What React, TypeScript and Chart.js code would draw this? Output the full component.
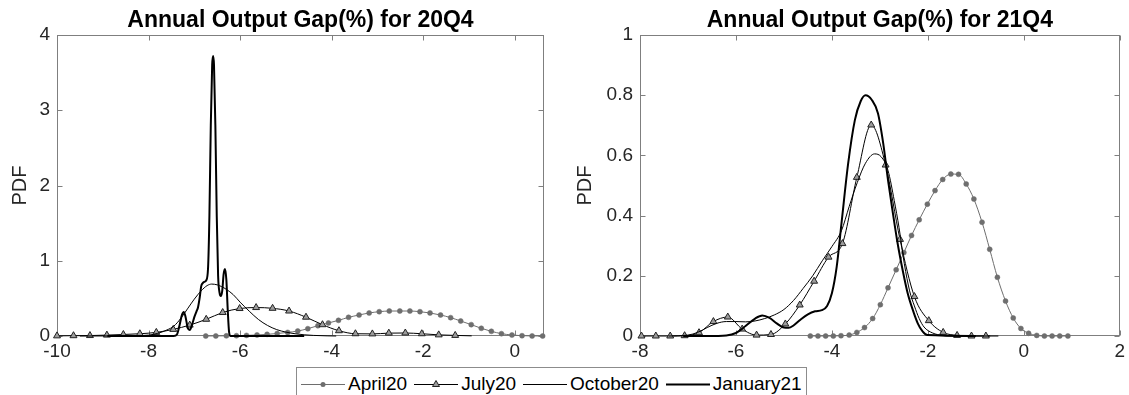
import React, { useEffect, useRef } from "react";
import { Chart, registerables } from "chart.js";

Chart.register(...registerables);

// ---------- Data ----------
// Left panel: Annual Output Gap(%) for 20Q4
const leftAprilX = [-6.75, -6.53, -6.30, -6.08, -5.86, -5.63, -5.41, -5.19, -4.96, -4.74, -4.52, -4.30, -4.07, -3.85, -3.63, -3.40, -3.18, -2.96, -2.74, -2.51, -2.29, -2.07, -1.85, -1.62, -1.40, -1.18, -0.95, -0.73, -0.51, -0.29, -0.06, 0.16, 0.38, 0.61];
const leftAprilY = [0, 0.001, 0.002, 0.004, 0.008, 0.014, 0.022, 0.033, 0.048, 0.066, 0.097, 0.137, 0.173, 0.208, 0.248, 0.279, 0.306, 0.323, 0.332, 0.332, 0.332, 0.323, 0.306, 0.279, 0.244, 0.199, 0.151, 0.102, 0.062, 0.031, 0.013, 0.004, 0.001, 0];

const leftJulyX = [-10.0, -9.64, -9.28, -8.91, -8.55, -8.19, -7.83, -7.46, -7.10, -6.74, -6.38, -6.01, -5.65, -5.29, -4.93, -4.56, -4.20, -3.84, -3.48, -3.11, -2.75, -2.39, -2.03, -1.66, -1.30, -0.94];
const leftJulyY = [0.002, 0.004, 0.006, 0.012, 0.02, 0.03, 0.048, 0.088, 0.145, 0.222, 0.312, 0.365, 0.378, 0.368, 0.332, 0.25, 0.15, 0.07, 0.03, 0.028, 0.038, 0.04, 0.03, 0.015, 0.008, 0.002];

const leftOctX = [-9.5, -8.8, -8.3, -8.0, -7.8, -7.6, -7.45, -7.3, -7.15, -7.0, -6.85, -6.72, -6.62, -6.5, -6.4, -6.3, -6.15, -6.0, -5.8, -5.6, -5.4, -5.2, -5.0, -4.8, -4.6, -4.4, -4.1, -3.9];
const leftOctY = [0, 0.001, 0.004, 0.012, 0.035, 0.08, 0.13, 0.23, 0.36, 0.49, 0.6, 0.67, 0.69, 0.68, 0.655, 0.62, 0.55, 0.45, 0.33, 0.22, 0.14, 0.085, 0.052, 0.03, 0.016, 0.008, 0.002, 0];

const leftJanX = [-8.9, -8.0, -7.45, -7.38, -7.32, -7.27, -7.23, -7.19, -7.14, -7.10, -7.05, -7.0, -6.95, -6.92, -6.88, -6.85, -6.82, -6.78, -6.74, -6.70, -6.67, -6.64, -6.61, -6.59, -6.57, -6.54, -6.51, -6.48, -6.45, -6.42, -6.39, -6.36, -6.33, -6.30, -6.27, -6.24, -6.21, -4.6];
const leftJanY = [0, 0, 0, 0.02, 0.15, 0.28, 0.32, 0.25, 0.1, 0.08, 0.15, 0.25, 0.33, 0.38, 0.52, 0.66, 0.70, 0.72, 0.74, 0.90, 1.6, 2.8, 3.6, 3.72, 3.6, 2.8, 1.6, 0.8, 0.58, 0.53, 0.6, 0.82, 0.89, 0.75, 0.35, 0.05, 0, 0];

// Right panel: Annual Output Gap(%) for 21Q4
const rightAprilX = [-4.45, -4.29, -4.13, -3.97, -3.81, -3.64, -3.48, -3.32, -3.15, -2.99, -2.83, -2.66, -2.50, -2.34, -2.18, -2.01, -1.85, -1.69, -1.52, -1.36, -1.20, -1.04, -0.87, -0.71, -0.55, -0.38, -0.22, -0.06, 0.10, 0.27, 0.43, 0.59, 0.75, 0.92];
const rightAprilY = [0, 0, 0, 0, 0.001, 0.003, 0.012, 0.028, 0.058, 0.104, 0.16, 0.22, 0.277, 0.334, 0.386, 0.438, 0.483, 0.52, 0.538, 0.537, 0.505, 0.455, 0.378, 0.288, 0.195, 0.116, 0.06, 0.025, 0.009, 0.002, 0, 0, 0, 0];

const rightJulyX = [-7.97, -7.67, -7.37, -7.07, -6.77, -6.47, -6.17, -5.87, -5.57, -5.27, -4.97, -4.67, -4.37, -4.07, -3.78, -3.48, -3.18, -2.88, -2.58, -2.28, -1.98, -1.68, -1.39, -1.09, -0.79, -0.53];
const rightJulyY = [0, 0, 0, 0.001, 0.011, 0.048, 0.063, 0.023, 0.003, 0.005, 0.04, 0.103, 0.182, 0.262, 0.307, 0.527, 0.701, 0.568, 0.321, 0.131, 0.051, 0.012, 0.002, 0, 0, 0];

const rightOctX = [-7.4, -7.0, -6.8, -6.6, -6.4, -6.2, -6.0, -5.8, -5.6, -5.4, -5.2, -5.0, -4.8, -4.6, -4.4, -4.2, -4.0, -3.8, -3.64, -3.47, -3.3, -3.11, -2.97, -2.83, -2.7, -2.6, -2.49, -2.38, -2.28, -2.18, -2.08, -1.9, -1.7, -1.5, -0.7];
const rightOctY = [0, 0.003, 0.012, 0.028, 0.042, 0.048, 0.048, 0.047, 0.05, 0.058, 0.07, 0.088, 0.118, 0.158, 0.2, 0.25, 0.297, 0.35, 0.43, 0.51, 0.574, 0.605, 0.595, 0.55, 0.45, 0.36, 0.24, 0.15, 0.1, 0.058, 0.03, 0.01, 0.002, 0, 0];

const rightJanX = [-7.1, -6.6, -6.2, -6.0, -5.8, -5.6, -5.45, -5.3, -5.15, -5.0, -4.9, -4.8, -4.65, -4.5, -4.35, -4.21, -4.1, -4.0, -3.9, -3.8, -3.66, -3.52, -3.4, -3.3, -3.17, -3.04, -2.93, -2.83, -2.73, -2.63, -2.52, -2.42, -2.31, -2.21, -2.11, -2.01, -1.0];
const rightJanY = [0, 0, 0.002, 0.01, 0.033, 0.058, 0.068, 0.06, 0.042, 0.028, 0.027, 0.035, 0.055, 0.072, 0.082, 0.086, 0.1, 0.142, 0.23, 0.374, 0.574, 0.718, 0.78, 0.8, 0.785, 0.74, 0.64, 0.518, 0.41, 0.308, 0.215, 0.142, 0.085, 0.042, 0.015, 0.003, 0];

const seriesNames = ["April20", "July20", "October20", "January21"];
const titles = ["Annual Output Gap(%) for 20Q4", "Annual Output Gap(%) for 21Q4"];
const leftXRange = [-10, 0.64];
const rightXRange = [-8, 2];
const leftYMax = 4;
const rightYMax = 1;
const leftXStep = 2;
const rightXStep = 2;
const leftYStep = 1;
const rightYStep = 0.2;

// ---------- Styles ----------
const FONT = "'Liberation Sans', Arial, Helvetica, sans-serif";
const GRAY = "#6e6e6e";
const TRI_FILL = "#9c9c9c";
const TRI_EDGE = "#222222";
const TXT = "#262626";
const AXIS = "#7f7f7f";
const TICK_LEN = 5;

const pts = (xs: number[], ys: number[]) => xs.map((x, i) => ({ x, y: ys[i] }));
const fmtTick = (v: any) => String(Math.round(Number(v) * 100) / 100);

const matlabAxes = {
  id: "matlabAxes",
  beforeDatasetsDraw(chart: any) {
    const { ctx, chartArea: a } = chart;
    const xs = chart.scales.x;
    const ys = chart.scales.y;
    const L = Math.round(a.left) + 0.5;
    const R = Math.round(a.right) - 0.5;
    const T = Math.round(a.top) + 0.5;
    const B = Math.round(a.bottom) - 0.5;
    ctx.save();
    ctx.strokeStyle = AXIS;
    ctx.lineWidth = 1;
    ctx.strokeRect(L, T, R - L, B - T);
    ctx.beginPath();
    xs.ticks.forEach((t: any) => {
      const px = Math.round(xs.getPixelForValue(t.value)) + 0.5;
      ctx.moveTo(px, B);
      ctx.lineTo(px, B - TICK_LEN);
      ctx.moveTo(px, T);
      ctx.lineTo(px, T + TICK_LEN);
    });
    ys.ticks.forEach((t: any) => {
      const py = Math.round(ys.getPixelForValue(t.value)) + 0.5;
      ctx.moveTo(L, py);
      ctx.lineTo(L + TICK_LEN, py);
      ctx.moveTo(R, py);
      ctx.lineTo(R - TICK_LEN, py);
    });
    ctx.stroke();
    ctx.restore();
  },
};

function makeConfig(opts: {
  title: string;
  april: [number[], number[]];
  july: [number[], number[]];
  oct: [number[], number[]];
  jan: [number[], number[]];
  xRange: number[];
  xStep: number;
  yMax: number;
  yStep: number;
  yAxisWidth: number;
  yTitlePad: number;
  rightPad: number;
}): any {
  const julyRadius = opts.july[0].map((_, i) => (i === opts.july[0].length - 1 ? 0 : 4));
  return {
    type: "line",
    data: {
      datasets: [
        {
          label: seriesNames[0],
          data: pts(opts.april[0], opts.april[1]),
          borderColor: GRAY,
          borderWidth: 1,
          pointStyle: "circle",
          pointRadius: 2.5,
          pointBackgroundColor: GRAY,
          pointBorderColor: GRAY,
          pointBorderWidth: 0.5,
          cubicInterpolationMode: "monotone",
          order: 4,
          clip: 10,
        },
        {
          label: seriesNames[1],
          data: pts(opts.july[0], opts.july[1]),
          borderColor: "#000",
          borderWidth: 1,
          pointStyle: "triangle",
          pointRadius: julyRadius,
          pointBackgroundColor: TRI_FILL,
          pointBorderColor: TRI_EDGE,
          pointBorderWidth: 1,
          cubicInterpolationMode: "monotone",
          order: 3,
          clip: 10,
        },
        {
          label: seriesNames[2],
          data: pts(opts.oct[0], opts.oct[1]),
          borderColor: "#000",
          borderWidth: 1,
          pointRadius: 0,
          cubicInterpolationMode: "monotone",
          order: 2,
          clip: 10,
        },
        {
          label: seriesNames[3],
          data: pts(opts.jan[0], opts.jan[1]),
          borderColor: "#000",
          borderWidth: 2,
          pointRadius: 0,
          cubicInterpolationMode: "monotone",
          order: 1,
          clip: 10,
        },
      ],
    },
    options: {
      responsive: false,
      animation: false,
      events: [],
      layout: { padding: { left: 0, right: opts.rightPad, top: 0, bottom: 0 } },
      plugins: {
        legend: { display: false },
        tooltip: { enabled: false },
        title: {
          display: true,
          text: opts.title,
          fullSize: false,
          color: "#000",
          font: { family: FONT, size: 23, weight: "bold" },
          padding: { top: 7, bottom: 0.4 },
        },
      },
      scales: {
        x: {
          type: "linear",
          min: opts.xRange[0],
          max: opts.xRange[1],
          afterFit: (s: any) => {
            s.height = 59;
          },
          grid: { display: false, drawTicks: false },
          border: { display: false },
          ticks: {
            stepSize: opts.xStep,
            includeBounds: false,
            autoSkip: false,
            maxRotation: 0,
            padding: 4,
            color: TXT,
            font: { family: FONT, size: 19 },
            callback: fmtTick,
          },
        },
        y: {
          type: "linear",
          min: 0,
          max: opts.yMax,
          afterFit: (s: any) => {
            s.width = opts.yAxisWidth;
          },
          grid: { display: false, drawTicks: false },
          border: { display: false },
          ticks: {
            stepSize: opts.yStep,
            includeBounds: false,
            padding: 7,
            color: TXT,
            font: { family: FONT, size: 19 },
            callback: fmtTick,
          },
          title: {
            display: true,
            text: "PDF",
            color: TXT,
            font: { family: FONT, size: 20 },
            padding: { top: opts.yTitlePad, bottom: 0 },
          },
        },
      },
    },
    plugins: [matlabAxes],
  };
}

const SAMPLE_W = 44;

function LegendSample({ kind }: { kind: number }) {
  const c = SAMPLE_W / 2;
  return (
    <svg width={SAMPLE_W} height={20} style={{ display: "block" }}>
      {kind === 0 && (
        <>
          <line x1={0} y1={10.5} x2={SAMPLE_W} y2={10.5} stroke={GRAY} strokeWidth={1} />
          <circle cx={c} cy={10.5} r={2.5} fill={GRAY} />
        </>
      )}
      {kind === 1 && (
        <>
          <line x1={0} y1={10.5} x2={SAMPLE_W} y2={10.5} stroke="#000" strokeWidth={1} />
          <polygon
            points={`${c},6.5 ${c + 3.5},12.5 ${c - 3.5},12.5`}
            fill={TRI_FILL}
            stroke={TRI_EDGE}
            strokeWidth={1}
          />
        </>
      )}
      {kind === 2 && <line x1={0} y1={10.5} x2={SAMPLE_W} y2={10.5} stroke="#000" strokeWidth={1} />}
      {kind === 3 && <line x1={0} y1={10.5} x2={SAMPLE_W} y2={10.5} stroke="#000" strokeWidth={2} />}
    </svg>
  );
}

function Legend() {
  return (
    <div
      style={{
        position: "absolute",
        left: 296,
        top: 367,
        height: 34,
        boxSizing: "border-box",
        border: "1px solid #8c8c8c",
        background: "#fff",
        display: "flex",
        alignItems: "center",
        paddingLeft: 4,
        paddingRight: 4,
        fontFamily: FONT,
        fontSize: 19,
        color: "#000",
        whiteSpace: "nowrap",
      }}
    >
      {seriesNames.map((n, i) => (
        <div key={n} style={{ display: "flex", alignItems: "center", marginRight: i === 3 ? 0 : 7 }}>
          <LegendSample kind={i} />
          <span style={{ marginLeft: 3, lineHeight: "20px" }}>{n}</span>
        </div>
      ))}
    </div>
  );
}

export default function App() {
  const leftRef = useRef<HTMLCanvasElement>(null);
  const rightRef = useRef<HTMLCanvasElement>(null);

  useEffect(() => {
    const c1 = new Chart(
      leftRef.current as HTMLCanvasElement,
      makeConfig({
        title: titles[0],
        april: [leftAprilX, leftAprilY],
        july: [leftJulyX, leftJulyY],
        oct: [leftOctX, leftOctY],
        jan: [leftJanX, leftJanY],
        xRange: leftXRange,
        xStep: leftXStep,
        yMax: leftYMax,
        yStep: leftYStep,
        yAxisWidth: 57,
        yTitlePad: 8,
        rightPad: 16,
      })
    );
    const c2 = new Chart(
      rightRef.current as HTMLCanvasElement,
      makeConfig({
        title: titles[1],
        april: [rightAprilX, rightAprilY],
        july: [rightJulyX, rightJulyY],
        oct: [rightOctX, rightOctY],
        jan: [rightJanX, rightJanY],
        xRange: rightXRange,
        xStep: rightXStep,
        yMax: rightYMax,
        yStep: rightYStep,
        yAxisWidth: 80,
        yTitlePad: 13,
        rightPad: 5,
      })
    );
    return () => {
      c1.destroy();
      c2.destroy();
    };
  }, []);

  return (
    <div
      style={{
        position: "fixed",
        left: 0,
        top: 0,
        width: 1129,
        height: 395,
        background: "#fff",
        overflow: "hidden",
      }}
    >
      <canvas
        ref={leftRef}
        width={560}
        height={395}
        style={{ position: "absolute", left: 0, top: 0, width: 560, height: 395, display: "block" }}
      />
      <canvas
        ref={rightRef}
        width={569}
        height={395}
        style={{ position: "absolute", left: 560, top: 0, width: 569, height: 395, display: "block" }}
      />
      <Legend />
    </div>
  );
}
